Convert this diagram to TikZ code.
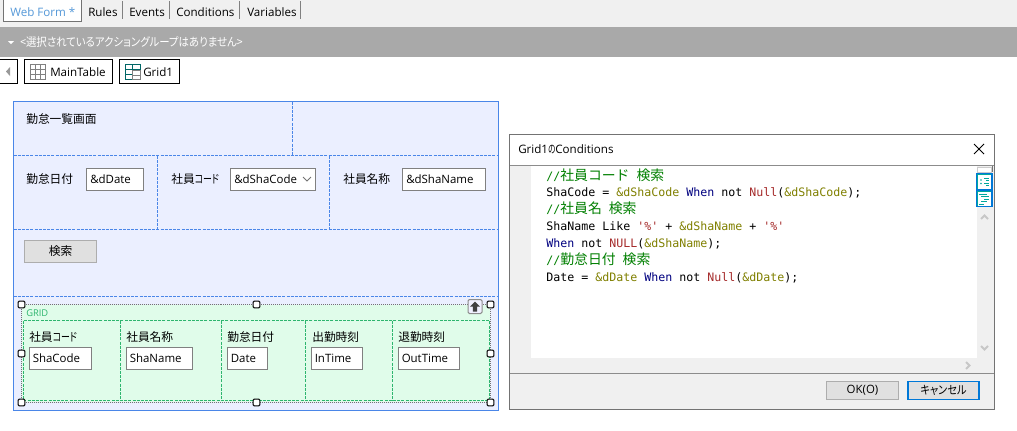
\documentclass[tikz,border=0pt]{standalone}
\usepackage{fontspec}
\setmainfont{Open Sans}
\newfontfamily\jp{Noto Sans CJK JP}[RawFeature=+palt]
\newfontfamily\jpm{Noto Sans CJK JP}
\newfontfamily\mono{DejaVu Sans Mono}
\definecolor{panel}{HTML}{EBEFFF}
\definecolor{bluel}{HTML}{4A86E8}
\definecolor{gridf}{HTML}{E0FCEA}
\definecolor{gridl}{HTML}{2DB56E}
\definecolor{barg}{HTML}{A9A9A9}
\definecolor{tabg}{HTML}{F0F0F0}
\definecolor{cgreen}{HTML}{008000}
\definecolor{colive}{HTML}{808000}
\definecolor{cnavy}{HTML}{000080}
\definecolor{cred}{HTML}{A52A2A}
\definecolor{teal2}{HTML}{00A89D}
\definecolor{focus}{HTML}{0078D7}
\newcommand{\J}[1]{{\jp #1}}
\newcommand{\K}[1]{\scalebox{.76}[1]{#1}}
\newcommand{\CG}[1]{\textcolor{cgreen}{#1}}
\newcommand{\CO}[1]{\textcolor{colive}{#1}}
\newcommand{\CN}[1]{\textcolor{cnavy}{#1}}
\newcommand{\CR}[1]{\textcolor{cred}{#1}}
\newcommand{\JM}[1]{{\jpm\fontsize{10.4pt}{10.4pt}\selectfont #1}}
\tikzset{
  lab/.style={anchor=base west,inner sep=0pt,font=\fontsize{8.6pt}{10pt}\selectfont},
  jlab/.style={anchor=base west,inner sep=0pt,font=\fontsize{8.8pt}{10pt}\jp\selectfont},
  tabtxt/.style={anchor=base west,inner sep=0pt,font=\fontsize{8.7pt}{10pt}\selectfont},
  code/.style={anchor=base west,inner sep=0pt,font=\fontsize{8.72pt}{10pt}\mono\selectfont},
  inbox/.style={draw=black!50,fill=white,line width=.75pt,rectangle,inner sep=0pt},
  tool/.style={draw=black,fill=white,line width=.75pt},
  dashb/.style={draw=bluel,line width=.75pt,dash pattern=on 2.25pt off .9pt},
  dashg/.style={draw=gridl,line width=.75pt,dash pattern=on 2.25pt off .9pt},
  handle/.style={draw=black,fill=white,line width=.75pt,rounded corners=.8pt,minimum size=5pt,inner sep=0pt,rectangle},
  btn/.style={draw=black!32,fill=black!12,line width=.75pt,rectangle,inner sep=0pt,align=center,font=\fontsize{8.8pt}{10pt}\jp\selectfont},
}
\begin{document}
\begin{tikzpicture}[x=.75pt,y=-.75pt]
\useasboundingbox (0,0) rectangle (1017,430);
\fill[white] (0,0) rectangle (1017,430);
% tab strip
\fill[tabg] (0,0) rectangle (1017,27);
\fill[barg] (0,27) rectangle (1017,57);
\path[draw=black!55,fill=white,line width=.75pt] (3.5,-1) rectangle (81.5,21.5);
\node[tabtxt,text=cyan!60!blue!70] (tabWeb) at (10,16) {Web Form *};
\node[tabtxt] (tabRules) at (88,16) {Rules};
\node[tabtxt] (tabEvents) at (129,16) {Events};
\node[tabtxt] (tabCond) at (176,16) {Conditions};
\node[tabtxt] (tabVars) at (247,16) {Variables};
\foreach \x in {122.5,169.5,239.5,300.5} \draw[black!50,line width=.75pt] (\x,1) -- (\x,19);
\fill[white] (8,41) -- (14,41) -- (11,44) -- cycle;
\node[jlab,text=white] (actionbar) at (20,46) {\scalebox{.888}[1]{<選択されているアクショングループはありません>}};
% toolbar
\path[tool] (-2,59.5) rectangle (17.5,83.5);
\fill[black!40] (6,71.5) -- (10,67) -- (10,76) -- cycle;
\path[tool] (24.5,59.5) rectangle (112.5,83.5);
\path[tool] (119.5,59.5) rectangle (179.5,83.5);
\draw[black!50,line width=.75pt] (30.5,64.5) rectangle (45.5,79.5) (30.5,69.5) -- (45.5,69.5) (30.5,74.5) -- (45.5,74.5) (35.5,64.5) -- (35.5,79.5) (40.5,64.5) -- (40.5,79.5);
\draw[teal!80!black,line width=.9pt] (125.5,64.5) rectangle (140.5,79.5) (125.5,69.5) -- (140.5,69.5) (125.5,74.5) -- (132.5,74.5) (132.5,64.5) -- (132.5,79.5);
\fill[white] (132,70) rectangle (141,80);
\draw[black!50,line width=.75pt] (132.5,70.5) rectangle (140.5,79.5) (132.5,75) -- (140.5,75);
\node[tabtxt] (tbMain) at (50,76) {MainTable};
\node[tabtxt] (tbGrid) at (143,76) {Grid1};
% main panel
\path[fill=panel,draw=bluel,line width=.75pt] (13.5,101.5) rectangle (498.5,410.5);
\draw[dashb] (292.5,101.5) -- (292.5,155.5);
\draw[dashb] (13.5,155.5) -- (498.5,155.5);
\draw[dashb] (13.5,229.5) -- (498.5,229.5);
\draw[dashb] (13.5,296.5) -- (498.5,296.5);
\draw[dashb] (157.5,155.5) -- (157.5,229.5);
\draw[dashb] (329.5,155.5) -- (329.5,229.5);
\node[jlab] (lTitle) at (26,123) {勤怠一覧画面};
\node[jlab] (l1) at (26,183) {勤怠日付};
\node[jlab] (l2) at (171,183) {社員\K{コード}};
\node[jlab] (l3) at (343,183) {社員名称};
\path[inbox] (86.5,168.5) rectangle (143.5,190.5);
\path[inbox] (230.5,168.5) rectangle (315.5,190.5);
\path[inbox] (402.5,168.5) rectangle (485.5,190.5);
\node[lab] (i1) at (90,183) {\&dDate};
\node[lab] (i2) at (234,183) {\&dShaCode};
\node[lab] (i3) at (406,183) {\&dShaName};
\draw[black!55,line width=.6pt] (303,177) -- (307,181) -- (311,177);
\node[btn,minimum width=54pt,minimum height=17pt] (search) at (60.5,251.5) {検索};
% grid
\fill[gridf] (22,305) rectangle (490,402);
\draw[black!55,line width=.75pt,dash pattern=on .75pt off .75pt] (21.5,304.5) rectangle (490.5,402.5);
\draw[dashg] (23.5,320.5) rectangle (489,400.5);
\foreach \x in {120.5,221.5,305.5,392.5} \draw[dashg] (\x,320.5) -- (\x,400.5);
\node[anchor=base west,inner sep=0pt,text=gridl,font=\fontsize{7pt}{8pt}\selectfont] (gridlab) at (26,316.5) {GRID};
\node[jlab] (gla) at (29,341) {社員\K{コード}};
\node[jlab] (glb) at (126,341) {社員名称};
\node[jlab] (glc) at (227,341) {勤怠日付};
\node[jlab] (gld) at (312,341) {出勤時刻};
\node[jlab] (gle) at (398,341) {退勤時刻};
\path[inbox] (29.5,347.5) rectangle (91.5,369.5);
\path[inbox] (126.5,347.5) rectangle (192.5,369.5);
\path[inbox] (227.5,347.5) rectangle (267.5,369.5);
\path[inbox] (311.5,347.5) rectangle (362.5,369.5);
\path[inbox] (398.5,347.5) rectangle (459.5,369.5);
\node[lab] (gi1) at (32.5,362) {ShaCode};
\node[lab] (gi2) at (129.5,362) {ShaName};
\node[lab] (gi3) at (230.5,362) {Date};
\node[lab] (gi4) at (314.5,362) {InTime};
\node[lab] (gi5) at (401.5,362) {OutTime};
\foreach \n/\x in {1/21.5,2/256.5,3/490.5} {
  \node[handle] (ht\n) at (\x,304.5) {};
  \node[handle] (hb\n) at (\x,402.5) {};
}
\node[handle] (hm1) at (21.5,353.5) {};
\node[handle] (hm2) at (490.5,353.5) {};
\path[draw=black!45,fill=blue!6,line width=.75pt,rounded corners=1pt] (468,299.5) rectangle (482,313.5);
\fill[black!75] (475,301.5) -- (480,306.5) -- (477.2,306.5) -- (477.2,311.5) -- (472.8,311.5) -- (472.8,306.5) -- (470,306.5) -- cycle;
% dialog
\path[draw=black!55,fill=white,line width=.75pt] (509.5,134.5) rectangle (994.5,409.5);
\node[tabtxt] (dlgTitle) at (518,153) {Grid1\J{\scalebox{.65}[1]{の}}Conditions};
\draw[line width=.75pt] (974,144) -- (984,154) (984,144) -- (974,154);
\fill[tabg] (510,165) rectangle (531,373);
\fill[tabg] (531,358) rectangle (994,373);
\fill[tabg] (977,165) rectangle (994,373);
\fill[tabg] (510,373) rectangle (994,409);
\draw[black!45,line width=.75pt] (510,165.5) -- (994,165.5);
\draw[black!45,line width=.75pt] (510,373.5) -- (994,373.5);
\draw[black!55,line width=.75pt] (509.5,134.5) rectangle (994.5,409.5);
\draw[black!55,line width=1pt] (992.5,166) -- (992.5,172);
\path[fill=white,draw=black!20,line width=.5pt] (977.5,167) rectangle (991.5,172);
\foreach \y in {173.5,190.5} {
  \path[fill=white,draw=focus,line width=1pt] (976.5,\y) rectangle (992,\y+16);
  \draw[teal2,line width=.75pt] (977.5,\y+15) -- (977.5,\y+1) -- (991,\y+1);
}
\foreach \yy/\xa/\xb in {178/984/989,180.5/986/989,183/984/989,185.5/986/989} \draw[teal2,line width=.75pt] (\xa,\yy) -- (\xb,\yy);
\fill[teal2] (981,180) circle (.8) (981,183.5) circle (.8);
\foreach \yy/\xa/\xb in {194/979/987,196.5/981/989,199/984/989,201.5/981/987,204/979/984} \draw[teal2,line width=.75pt] (\xa,\yy) -- (\xb,\yy);
\draw[black!22,line width=1.5pt] (981,219) -- (984.5,215.5) -- (988,219);
\draw[black!22,line width=1.5pt] (981,346) -- (984.5,349.5) -- (988,346);
\draw[black!22,line width=1.5pt] (966,362) -- (969.5,365.5) -- (966,369);
\node[code] (c1) at (546,180) {\CG{//\JM{社員コード} \JM{検索}}};
\node[code] (c2) at (546,196.5) {ShaCode = \CO{\&dShaCode} \CN{When} not \CR{Null}(\CO{\&dShaCode});};
\node[code] (c3) at (546,213.5) {\CG{//\JM{社員名} \JM{検索}}};
\node[code] (c4) at (546,230.5) {ShaName Like \CR{'\%'} + \CO{\&dShaName} + \CR{'\%'}};
\node[code] (c5) at (546,247.5) {\CN{When} not \CR{NULL}(\CO{\&dShaName});};
\node[code] (c6) at (546,264.5) {\CG{//\JM{勤怠日付} \JM{検索}}};
\node[code] (c7) at (546,281.5) {Date = \CO{\&dDate} \CN{When} not \CR{Null}(\CO{\&dDate});};
\node[btn,minimum width=54pt,minimum height=13.5pt,font=\fontsize{8.6pt}{10pt}\selectfont] (ok) at (862.5,390.5) {OK(O)};
\node[btn,draw=focus,line width=1.4pt,minimum width=53pt,minimum height=13.5pt] (cancel) at (943.5,390.5) {\scalebox{.87}[1]{キャンセル}};
\end{tikzpicture}
\end{document}
